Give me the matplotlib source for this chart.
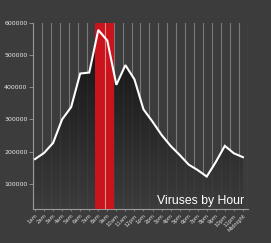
import numpy as np
import matplotlib
matplotlib.use('Agg')
import matplotlib.pyplot as plt
from matplotlib.colors import LinearSegmentedColormap

# hourly virus counts
hours = ['1am', '2am', '3am', '4am', '5am', '6am', '7am', '8am', '9am', '10am',
         '11am', '12pm', '1pm', '2pm', '3pm', '4pm', '5pm', '6pm', '7pm', '8pm',
         '9pm', '10pm', '11pm', 'Midnight']
viruses = [177000, 196000, 227000, 300000, 338000, 442000, 445000, 577000,
           544000, 407000, 468000, 424000, 331000, 293000, 252000, 218000,
           190000, 160000, 143000, 123000, 168000, 218000, 195000, 183000]
y_ticks = [100000, 200000, 300000, 400000, 500000, 600000]
peak_hours = ('8am', '9am')

bg = '#3c3c3c'
fig = plt.figure(figsize=(2.71, 2.43), dpi=100, facecolor=bg)
ax = fig.add_axes([0.1218, 0.140, 0.7932, 0.7674], facecolor=bg)

x = np.arange(len(hours))
x0, x1 = -0.22, 23.56
y0, y1 = 22600, 600000
ax.set_xlim(x0, x1)
ax.set_ylim(y0, y1)

# vertical grid lines between the hours
grid_x = np.linspace(x0, x1, len(hours) + 1)
for gx in grid_x[1:]:
    ax.axvline(gx, color='#7a7a7a', lw=0.8, zorder=1)

# red band behind the peak hours
i_a = hours.index(peak_hours[0])
i_b = hours.index(peak_hours[1])
ax.axvspan(grid_x[i_a] - 0.12, grid_x[i_b + 1], color='#c9141d', lw=0, zorder=3)
ax.axvline(grid_x[i_a + 1], color='#e48a8a', lw=0.8, zorder=3.5)

# gradient fill under the line
poly = ax.fill_between(x, viruses, y0, facecolor='none', edgecolor='none')
cmap = LinearSegmentedColormap.from_list('fade', [bg, '#0c0c0c'])
grad = np.linspace(0, 1, 256).reshape(-1, 1)
im = ax.imshow(grad, extent=[x0, x1, y0, y1], aspect='auto', origin='lower',
               cmap=cmap, alpha=0.9, zorder=2)
im.set_clip_path(poly.get_paths()[0], transform=ax.transData)

ax.plot(x, viruses, color='white', lw=1.5, zorder=5, solid_joinstyle='miter')

for side in ['top', 'right']:
    ax.spines[side].set_visible(False)
for side in ['left', 'bottom']:
    ax.spines[side].set_color('#9a9a9a')
    ax.spines[side].set_linewidth(0.8)

ax.set_yticks(y_ticks)
ax.set_yticklabels([str(v) for v in y_ticks])
ax.tick_params(axis='y', colors='#9a9a9a', labelcolor='#e8e8e8', labelsize=4.5,
               length=3, width=0.6, pad=1)

ax.set_xticks(x)
ax.set_xticklabels(hours, rotation=45, ha='right', rotation_mode='anchor')
ax.tick_params(axis='x', colors='#9a9a9a', labelcolor='#dcdcdc', labelsize=3.8,
               length=1.5, width=0.5, pad=1.5)

fig.text(244 / 271, 1 - 204 / 243, 'Viruses by Hour', color='white',
         fontsize=8.8, family='Liberation Sans', ha='right', va='baseline')

fig.savefig('out.png', dpi=100, facecolor=bg)
